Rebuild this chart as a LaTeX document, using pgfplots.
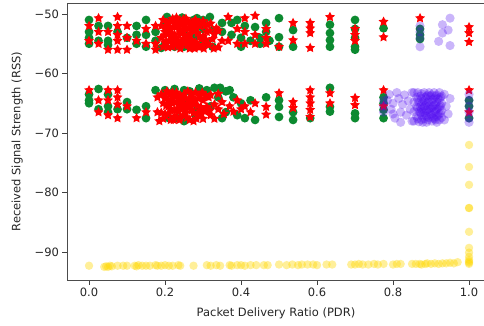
\documentclass[border=0pt]{standalone}
\usepackage{pgfplots}
\pgfplotsset{compat=1.18}
\usepackage{fontspec}
\setmainfont{DejaVu Sans}
\definecolor{mgreen}{RGB}{12,138,48}
\definecolor{mred}{RGB}{255,0,0}
\definecolor{mblue}{RGB}{80,10,240}
\definecolor{mgold}{RGB}{255,215,0}
\pgfdeclareplotmark{fstar}{%
 \pgfpathmoveto{\pgfpointpolar{90}{\pgfplotmarksize}}%
 \pgfpathlineto{\pgfpointpolar{126}{0.5\pgfplotmarksize}}%
 \pgfpathlineto{\pgfpointpolar{162}{\pgfplotmarksize}}%
 \pgfpathlineto{\pgfpointpolar{198}{0.5\pgfplotmarksize}}%
 \pgfpathlineto{\pgfpointpolar{234}{\pgfplotmarksize}}%
 \pgfpathlineto{\pgfpointpolar{270}{0.5\pgfplotmarksize}}%
 \pgfpathlineto{\pgfpointpolar{306}{\pgfplotmarksize}}%
 \pgfpathlineto{\pgfpointpolar{342}{0.5\pgfplotmarksize}}%
 \pgfpathlineto{\pgfpointpolar{18}{\pgfplotmarksize}}%
 \pgfpathlineto{\pgfpointpolar{54}{0.5\pgfplotmarksize}}%
 \pgfpathclose\pgfusepathqfill}
\pgfdeclareplotmark{fcirc}{%
 \pgfpathcircle{\pgfpoint{0pt}{0pt}}{\pgfplotmarksize}\pgfusepathqfill}
\begin{document}
\begin{tikzpicture}
\begin{axis}[
  scale only axis, width=418pt, height=277pt,
  xmin=-0.058, xmax=1.042, ymin=-94.7, ymax=-48.15,
  xtick={0,0.2,0.4,0.6,0.8,1.0},
  xticklabels={0.0,0.2,0.4,0.6,0.8,1.0},
  ytick={-90,-80,-70,-60,-50},
  yticklabels={−90,−80,−70,−60,−50},
  tick align=outside, xtick pos=bottom, ytick pos=left,
  major tick length=4.5pt,
  every tick/.style={draw=black!75, line width=0.8pt},
  axis line style={draw=black!70, line width=0.9pt},
  tick label style={font=\fontsize{11.5}{13}\selectfont, text=black!85},
  label style={font=\fontsize{11.5}{13}\selectfont, text=black!85},
  xlabel={Packet Delivery Ratio (PDR)},
  ylabel={Received Signal Strength (RSS)},
  xlabel style={yshift=-4pt},
  ylabel style={yshift=5pt},
]
% green circles
\addplot[only marks, mark=fcirc, mark size=4.4pt, color=mgreen, mark options={fill=mgreen}] table {
x y
0 -51
0 -53
0 -54
0 -55
0.025 -52
0.025 -54.5
0.05 -52
0.05 -54.5
0.05 -55.2
0.075 -53
0.1 -54
0.125 -52
0.125 -53.5
0.125 -55
0.15 -51
0.15 -53.5
0.15 -55.5
0.175 -53
0.175 -54.5
0.2 -51.5
0.205 -50.5
0.2 -55
0.19 -55.7
0.225 -51
0.225 -55.5
0.245 -50.6
0.25 -53
0.25 -55.5
0.275 -51
0.275 -54
0.284 -50.7
0.275 -55.5
0.3 -51
0.3 -52.5
0.3 -55
0.318 -50.5
0.325 -52.7
0.31 -54.9
0.325 -55.5
0.35 -51.5
0.35 -53
0.375 -51.5
0.375 -53.5
0.39 -51
0.4 -54
0.4 -55.5
0.41 -52
0.425 -54.5
0.437 -52.2
0.45 -54
0.45 -55
0.466 -51.5
0.466 -53
0.475 -54.5
0.5 -50.7
0.5 -53.9
0.5 -55.5
0.537 -52.7
0.537 -55.5
0.634 -51.8
0.634 -53.2
0.634 -54.4
0.634 -55.5
0.7 -51
0.7 -52.5
0.7 -54
0.7 -55.5
0.7 -56
0.775 -52.4
0.871 -52.5
0.871 -53.5
0.871 -54.2
0 -63.5
0 -64.5
0 -65
0.025 -62.6
0.025 -66
0.05 -63.5
0.05 -65.5
0.05 -66.5
0.075 -66
0.1 -64.8
0.1 -66
0.125 -66.1
0.15 -65.5
0.15 -67.5
0.175 -62.8
0.2 -62.8
0.21 -67.5
0.225 -62.6
0.232 -67.5
0.245 -64.8
0.25 -62.8
0.25 -68
0.265 -63
0.28 -67
0.284 -66.1
0.29 -62.5
0.3 -66
0.31 -62.8
0.32 -65.5
0.33 -62.4
0.34 -64
0.345 -62.4
0.36 -63
0.37 -62.8
0.36 -66.5
0.35 -67.5
0.38 -64
0.39 -67
0.4 -65
0.41 -67.5
0.425 -64.5
0.437 -67.8
0.466 -64
0.5 -64.5
0.5 -65.6
0.5 -67.3
0.537 -66.5
0.537 -67.8
0.582 -67.5
0.634 -62.4
0.634 -65.6
0.634 -66.4
0.7 -66.7
0.7 -67.5
0.775 -64
0.775 -65
0.775 -66.1
0.775 -67.5
1.0 -64.5
1.0 -65.5
1.0 -67.5
};
% red stars
\addplot[only marks, mark=fstar, mark size=5.2pt, color=mred, mark options={fill=mred}] table {
x y
0 -52
0 -54.5
0.025 -50.7
0.025 -53
0.025 -55
0.05 -53
0.05 -56
0.075 -50.5
0.075 -52
0.075 -53.5
0.075 -54.5
0.075 -56
0.1 -52
0.1 -54
0.1 -56
0.125 -54.5
0.15 -52.5
0.15 -55
0.175 -52
0.175 -55
0.175 -56
0.19 -52
0.19 -54
0.195 -55.5
0.2 -53
0.205 -51.5
0.21 -54.5
0.215 -52.5
0.22 -55.5
0.22 -50.8
0.225 -53.5
0.23 -52
0.235 -54.5
0.24 -51.5
0.24 -55.8
0.245 -53
0.25 -52
0.25 -54.2
0.255 -50.8
0.26 -55.2
0.265 -53.5
0.27 -52.3
0.275 -51.4
0.28 -54.8
0.285 -53.2
0.29 -55.6
0.3 -53.8
0.305 -52
0.315 -55.2
0.325 -54.2
0.335 -52.4
0.34 -55.6
0.35 -54.5
0.195 -51
0.2 -54.8
0.205 -52.8
0.21 -51.6
0.215 -53.8
0.22 -55
0.225 -52.2
0.23 -50.6
0.23 -54
0.235 -55.4
0.24 -53.2
0.245 -51.8
0.25 -55
0.255 -52.6
0.26 -51.2
0.26 -53.8
0.265 -55.8
0.27 -54.4
0.275 -52.8
0.28 -51
0.285 -55.2
0.29 -52
0.295 -54.2
0.3 -51.2
0.31 -53
0.32 -51.6
0.33 -53.4
0.34 -52.8
0.198 -53.6
0.208 -55.6
0.218 -51.2
0.228 -54.8
0.238 -52.6
0.248 -50.9
0.258 -54.6
0.268 -51.8
0.278 -55.8
0.288 -51.6
0.298 -55.4
0.308 -54.4
0.318 -52.8
0.328 -55.8
0.202 -52.2
0.212 -53.2
0.222 -54.2
0.232 -51.4
0.242 -54.8
0.252 -53.6
0.262 -52.4
0.272 -55.2
0.282 -52.2
0.292 -53.8
0.302 -55.8
0.312 -51.8
0.366 -50.5
0.366 -54.5
0.39 -52.5
0.39 -55
0.41 -50.7
0.41 -53
0.41 -55
0.437 -50.3
0.437 -53.5
0.437 -55
0.466 -52.5
0.466 -54
0.466 -55
0.5 -55.5
0.537 -51.5
0.537 -54.4
0.582 -51.5
0.582 -52.4
0.582 -53.2
0.582 -55.7
0.634 -50.5
0.7 -52.5
0.7 -53.5
0.7 -54.5
0.775 -51.3
0.775 -53.9
0.871 -50.7
1.0 -52.2
1.0 -53.2
1.0 -54.7
0 -62.8
0.025 -64.5
0.025 -66.5
0.05 -62.8
0.05 -64.5
0.05 -67
0.075 -62.8
0.075 -64
0.075 -65.2
0.075 -67.5
0.1 -65.5
0.125 -67.5
0.15 -66.5
0.18 -64
0.18 -66.5
0.185 -68
0.19 -63.5
0.195 -65
0.2 -66.8
0.2 -64.2
0.205 -63
0.21 -65.5
0.215 -67.8
0.22 -64
0.225 -66.2
0.23 -63.2
0.235 -65
0.24 -67.4
0.245 -64.6
0.25 -63.5
0.255 -66
0.26 -65
0.265 -67.8
0.27 -64
0.275 -66.6
0.28 -63.2
0.285 -65.4
0.29 -67
0.3 -64.5
0.305 -66.4
0.315 -64
0.32 -67
0.33 -65.2
0.34 -66
0.35 -64.8
0.355 -66.8
0.19 -66.6
0.195 -67.6
0.2 -63.6
0.21 -64.6
0.215 -66
0.22 -63.2
0.225 -67.2
0.23 -64.8
0.235 -66.4
0.24 -63.8
0.245 -65.8
0.25 -67
0.255 -64.2
0.26 -63
0.265 -65.6
0.27 -66.2
0.275 -68
0.28 -64.6
0.285 -66.8
0.29 -63.8
0.295 -65.8
0.3 -67.6
0.31 -65.6
0.32 -63.6
0.33 -67.6
0.34 -63.4
0.208 -66.8
0.218 -65
0.228 -63.8
0.238 -67.8
0.248 -65.2
0.258 -67.4
0.268 -63.4
0.278 -65.2
0.288 -64.2
0.298 -63.2
0.203 -65.4
0.213 -63.4
0.223 -67.8
0.233 -66
0.243 -64.2
0.253 -66.6
0.263 -64.6
0.273 -65
0.283 -67.6
0.293 -66.2
0.308 -63.8
0.318 -66.2
0.37 -65.5
0.38 -66.4
0.39 -64.5
0.4 -66
0.41 -65.5
0.425 -66.5
0.437 -65
0.466 -65.6
0.466 -66.9
0.5 -63.3
0.537 -64.8
0.537 -65.8
0.582 -62.8
0.582 -64
0.582 -65
0.582 -66.1
0.582 -67.3
0.634 -63.3
0.634 -65
0.7 -64.1
0.7 -65.3
0.775 -62.8
0.775 -65.5
1.0 -62.8
1.0 -66.5
};
% blue circles
\addplot[only marks, mark=fcirc, mark size=4.6pt, color=mblue, mark options={fill=mblue, fill opacity=0.3}] table {
x y
0.871 -52
0.871 -53
0.871 -54
0.871 -55.5
0.95 -50.7
0.93 -51.8
0.945 -52.7
0.93 -53.2
0.92 -54.6
0.95 -55.3
0.775 -64.5
0.775 -65.5
0.775 -66.5
0.785 -64.5
0.79 -63.5
0.795 -66
0.8 -65
0.805 -67.5
0.81 -63.2
0.815 -64.2
0.82 -66.5
0.825 -65.2
0.83 -63.6
0.835 -67
0.84 -64.6
0.845 -66
0.85 -63.2
0.85 -68
0.8 -66.8
0.82 -68.2
0.855 -63.2
0.855 -64.8
0.855 -66.4
0.855 -68
0.862 -64
0.862 -65.6
0.862 -67.2
0.865 -63.2
0.868 -64.8
0.868 -66.4
0.868 -68.1
0.875 -63.4
0.875 -64.2
0.875 -65.2
0.875 -66
0.875 -67
0.875 -67.8
0.882 -63.2
0.882 -64.6
0.882 -65.6
0.882 -66.6
0.882 -67.6
0.888 -63.8
0.888 -65
0.888 -66.2
0.888 -67.2
0.888 -68.2
0.895 -63.2
0.895 -64.4
0.895 -65.4
0.895 -66.4
0.895 -67.4
0.902 -63.6
0.902 -64.8
0.902 -66
0.902 -67
0.902 -68
0.908 -63.2
0.908 -64.2
0.908 -65.4
0.908 -66.6
0.908 -67.6
0.915 -63.6
0.915 -64.8
0.915 -66
0.915 -67.2
0.915 -68.2
0.922 -63.2
0.922 -64.4
0.922 -65.6
0.922 -66.8
0.922 -67.8
0.928 -63.8
0.928 -65
0.928 -66.2
0.928 -67.4
0.865 -64.4
0.865 -65.8
0.865 -67.6
0.872 -63.8
0.872 -65.6
0.872 -66.6
0.878 -64.8
0.878 -66.4
0.878 -68.2
0.885 -64
0.885 -65.4
0.885 -67
0.892 -63.6
0.892 -64.8
0.892 -66
0.892 -67.8
0.898 -63.8
0.898 -65.8
0.898 -66.8
0.905 -64.4
0.905 -65.6
0.905 -67.4
0.912 -63.8
0.912 -65.2
0.912 -66.4
0.912 -67.8
0.918 -64.2
0.918 -65.8
0.918 -67
0.925 -64
0.925 -65.4
0.925 -66.6
0.935 -63.5
0.94 -65.5
0.945 -66.8
0.935 -67.8
0.95 -64.2
1.0 -63.5
1.0 -64.5
1.0 -65.5
1.0 -66.5
1.0 -67.5
1.0 -68.2
};
% yellow circles
\addplot[only marks, mark=fcirc, mark size=4.2pt, color=mgold, mark options={fill=mgold, fill opacity=0.4}] table {
x y
0.0 -92.3
0.04 -92.5
0.045 -92.4
0.05 -92.5
0.055 -92.3
0.06 -92.4
0.075 -92.3
0.09 -92.3
0.1 -92.3
0.12 -92.3
0.125 -92.4
0.13 -92.2
0.14 -92.3
0.15 -92.3
0.16 -92.3
0.175 -92.2
0.18 -92.3
0.19 -92.3
0.2 -92.2
0.21 -92.3
0.22 -92.3
0.235 -92.2
0.24 -92.3
0.275 -92.3
0.31 -92.2
0.32 -92.3
0.335 -92.2
0.345 -92.3
0.37 -92.2
0.375 -92.3
0.39 -92.2
0.4 -92.2
0.41 -92.3
0.425 -92.2
0.44 -92.2
0.46 -92.2
0.47 -92.2
0.5 -92.1
0.52 -92.2
0.535 -92.1
0.55 -92.2
0.56 -92.1
0.575 -92.1
0.59 -92.1
0.6 -92.2
0.625 -92.1
0.64 -92.1
0.69 -92.1
0.7 -92.1
0.71 -92.0
0.72 -92.1
0.735 -92.1
0.75 -92.0
0.76 -92.1
0.775 -92.0
0.8 -92.1
0.81 -92.0
0.82 -92.0
0.85 -92.0
0.86 -92.0
0.87 -92.0
0.875 -92.1
0.885 -92.0
0.89 -91.9
0.9 -92.0
0.91 -91.9
0.92 -92.0
0.93 -91.9
0.94 -91.9
0.95 -91.8
0.96 -91.9
0.97 -91.7
1.0 -72
1.0 -75.7
1.0 -78.7
1.0 -82.6
1.0 -82.6
1.0 -86.6
1.0 -89.3
1.0 -90.1
1.0 -90.8
1.0 -91.3
1.0 -91.6
1.0 -91.8
1.0 -92.0
};
\end{axis}
\pgfresetboundingbox
\path (-67pt,-45pt) rectangle (417pt,280pt);
\end{tikzpicture}
\end{document}
